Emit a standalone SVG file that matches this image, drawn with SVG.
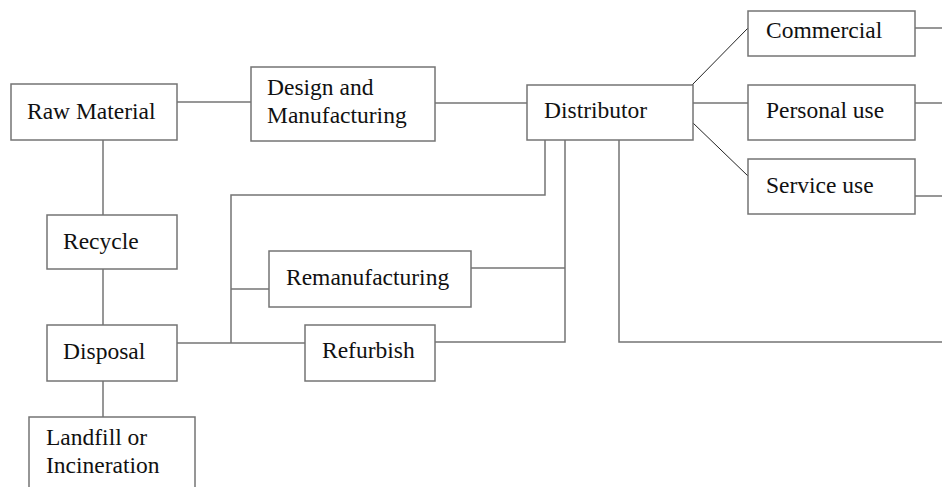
<svg xmlns="http://www.w3.org/2000/svg" width="942" height="487" viewBox="0 0 942 487">
<style>
.box{fill:#fff;stroke:#747474;stroke-width:1.5}
.ln{fill:none;stroke:#747474;stroke-width:1.5}
.dg{fill:none;stroke:#222;stroke-width:1}
text{font-family:"Liberation Serif","Times New Roman",serif;font-size:23.5px;fill:#111}
</style>
<rect width="942" height="487" fill="#fff"/>
<g id="connectors">
<line class="ln" x1="177" y1="102" x2="251" y2="102"/>
<line class="ln" x1="435" y1="103" x2="527" y2="103"/>
<line class="ln" x1="103" y1="140" x2="103" y2="215"/>
<line class="ln" x1="103" y1="269" x2="103" y2="325"/>
<line class="ln" x1="103" y1="381" x2="103" y2="417"/>
<line class="dg" x1="692" y1="85" x2="748" y2="28"/>
<line class="ln" x1="692" y1="103" x2="748" y2="103"/>
<line class="dg" x1="692" y1="122" x2="748" y2="176"/>
<line class="ln" x1="915" y1="28" x2="942" y2="28"/>
<line class="ln" x1="915" y1="103" x2="942" y2="103"/>
<line class="ln" x1="915" y1="196" x2="942" y2="196"/>
<polyline class="ln" points="545,140 545,195 231,195 231,343"/>
<line class="ln" x1="177" y1="343" x2="305" y2="343"/>
<line class="ln" x1="231" y1="289" x2="269" y2="289"/>
<line class="ln" x1="471" y1="268" x2="565" y2="268"/>
<polyline class="ln" points="565,140 565,342 435,342"/>
<polyline class="ln" points="619,140 619,342 942,342"/>
</g>
<g id="raw-material">
<rect class="box" x="11" y="84" width="166" height="56"/>
<text x="27" y="119">Raw Material</text>
</g>
<g id="design-manufacturing">
<rect class="box" x="251" y="67" width="184" height="74"/>
<text x="267" y="95">Design and</text>
<text x="267" y="123">Manufacturing</text>
</g>
<g id="distributor">
<rect class="box" x="527" y="85" width="166" height="55"/>
<text x="544" y="118">Distributor</text>
</g>
<g id="commercial">
<rect class="box" x="748" y="11" width="167" height="45"/>
<text x="766" y="38">Commercial</text>
</g>
<g id="personal-use">
<rect class="box" x="748" y="85" width="167" height="55"/>
<text x="766" y="118">Personal use</text>
</g>
<g id="service-use">
<rect class="box" x="748" y="159" width="167" height="55"/>
<text x="766" y="193">Service use</text>
</g>
<g id="recycle">
<rect class="box" x="47" y="215" width="130" height="54"/>
<text x="63" y="249">Recycle</text>
</g>
<g id="disposal">
<rect class="box" x="47" y="325" width="130" height="56"/>
<text x="63" y="359">Disposal</text>
</g>
<g id="landfill-incineration">
<rect class="box" x="29" y="417" width="166" height="90"/>
<text x="46" y="445">Landfill or</text>
<text x="46" y="473">Incineration</text>
</g>
<g id="remanufacturing">
<rect class="box" x="269" y="251" width="202" height="56"/>
<text x="286" y="285">Remanufacturing</text>
</g>
<g id="refurbish">
<rect class="box" x="305" y="325" width="130" height="56"/>
<text x="322" y="358">Refurbish</text>
</g>
</svg>
